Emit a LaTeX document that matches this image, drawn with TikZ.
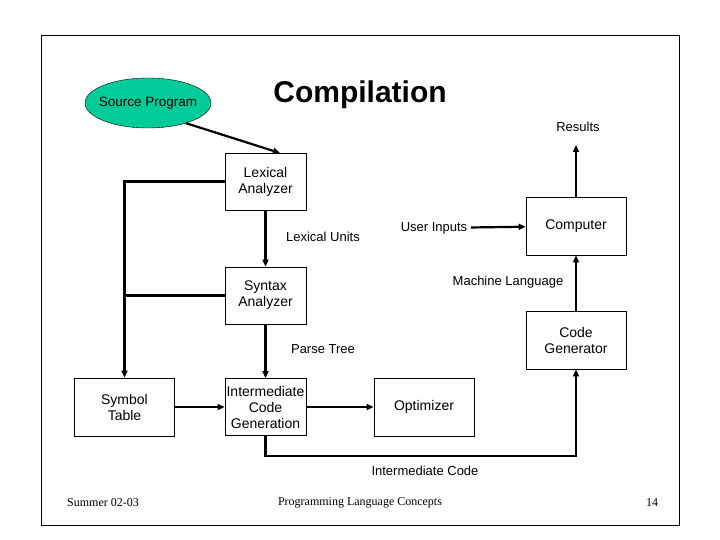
\documentclass[tikz,border=0pt]{standalone}
\usepackage{fontspec}
\setmainfont{Liberation Sans}
\newfontfamily\seriffont{Liberation Serif}
\usetikzlibrary{arrows.meta,shapes.geometric}
\begin{document}
\begin{tikzpicture}[x=1pt,y=-1pt,
  box/.style={draw,line width=0.8pt,minimum width=81pt,minimum height=57pt,align=center,font=\fontsize{14}{16}\selectfont,inner sep=1pt},
  wbox/.style={box,minimum width=100pt,minimum height=58pt},
  lbl/.style={font=\fontsize{13}{15}\selectfont},
  foot/.style={font=\seriffont\fontsize{12}{14}\selectfont},
  conn/.style={line width=2.2pt,-{Triangle[length=7pt,width=6pt]}}]
\useasboundingbox (0,0) rectangle (720,540);
\draw[line width=1pt] (41,36) rectangle (679,525);
\node[draw,ellipse,fill={rgb,255:red,0;green,204;blue,153},minimum width=126pt,minimum height=50pt,inner xsep=-8pt,inner ysep=0pt,font=\fontsize{13.5}{16}\selectfont] (src) at (148,103) {Source Program};
\node[font=\bfseries\fontsize{30}{34}\selectfont] (title) at (360,95) {Compilation};
\node[box] (lex) at (265.5,181.5) {Lexical\\Analyzer};
\node[box] (syn) at (265.5,295.5) {Syntax\\Analyzer};
\node[box] (int) at (265.5,407) {Intermediate\\Code\\Generation};
\node[wbox] (sym) at (124.5,407) {Symbol\\Table};
\node[wbox] (opt) at (424,407) {Optimizer};
\node[wbox] (cmp) at (576,226) {Computer};
\node[wbox] (cg) at (576,340) {Code\\Generator};
\node[lbl] (res) at (578,127) {Results};
\node[lbl] (ui) at (434,228) {User Inputs};
\node[lbl] (lu) at (323,237) {Lexical Units};
\node[lbl] (pt) at (323,349) {Parse Tree};
\node[lbl] (ml) at (508,282) {Machine Language};
\node[lbl] (ic) at (425,471) {Intermediate Code};
\node[foot] (f1) at (103,503) {Summer 02-03};
\node[foot] (f2) at (360,503) {Programming Language Concepts};
\node[foot] (f3) at (652,503) {14};
\coordinate (rt) at (576,145);
\coordinate (lexin) at (280,153);
\draw[conn] (src.-28) -- (lexin);
\draw[conn] (lex) -- (syn);
\draw[conn] (syn) -- (int);
\draw[conn] (sym) -- (int);
\draw[conn] (int) -- (opt);
\draw[conn] (lex.west) -| (sym.north);
\draw[line width=2.2pt] (syn.west) -- (sym.north |- syn.west);
\draw[conn] (ui) -- (cmp);
\draw[conn] (cmp.north) -- (rt);
\draw[conn] (cg) -- (cmp);
\draw[conn] (int.south) -- ++(0,20) -| (cg.south);
\end{tikzpicture}
\end{document}
